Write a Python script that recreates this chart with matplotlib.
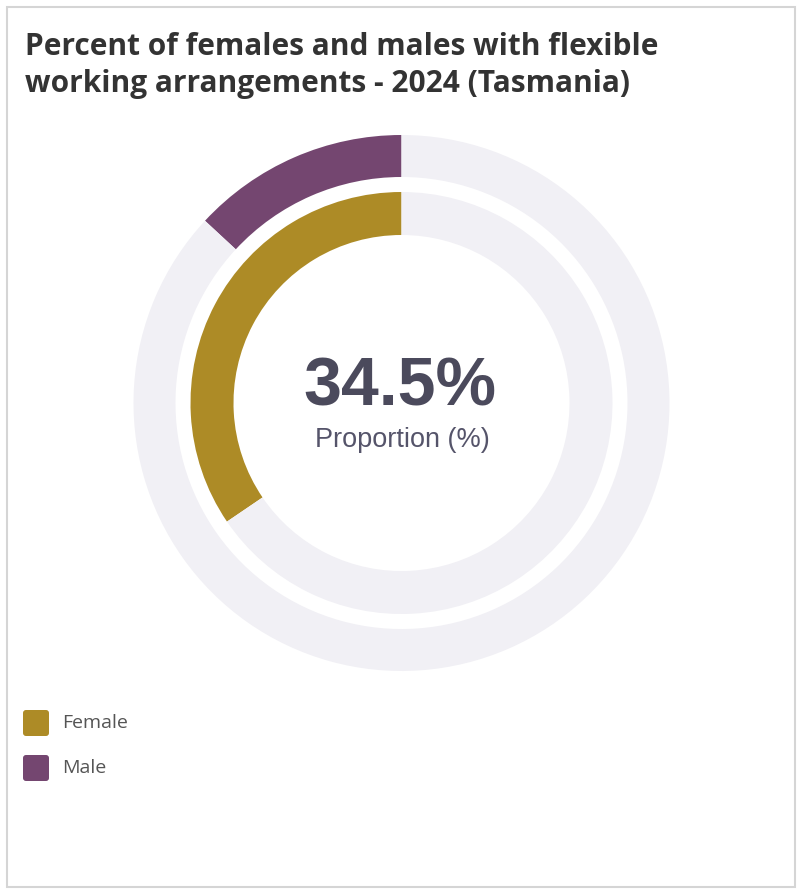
import matplotlib
matplotlib.use("Agg")
import matplotlib.pyplot as plt
from matplotlib.patches import FancyBboxPatch, Rectangle

title_lines = ["Percent of females and males with flexible",
               "working arrangements - 2024 (Tasmania)"]
series = ["Female", "Male"]
values = [34.5, 13.1]
colors = ["#AD8B26", "#744670"]
track_color = "#F1F0F5"
center_value = "34.5%"
center_label = "Proportion (%)"

W, H = 800, 893
fig = plt.figure(figsize=(W / 100, H / 100), dpi=100)
ax = fig.add_axes([0, 0, 1, 1])

# card border
ax.add_patch(Rectangle((7, H - 887), 788, 880, fill=False, edgecolor="#D5D5D5", lw=1.5))

cx, cy = 401.5, H - 403
rings = [(268, 42), (211, 43)]  # Male outer ring, Female inner ring
order = [1, 0]
for (r, w), idx in zip(rings, order):
    v = values[idx]
    ax.pie([v, 100 - v], colors=[colors[idx], track_color], radius=r, center=(cx, cy),
           startangle=90, counterclock=True,
           wedgeprops=dict(width=w, edgecolor="none", linewidth=0))
ax.set_xlim(0, W)
ax.set_ylim(0, H)
ax.set_aspect("equal")
ax.axis("off")

ax.text(400, H - 405, center_value, ha="center", va="baseline", fontsize=49, fontweight="bold",
        family="Liberation Sans", color="#4B4A5C")
ax.text(402, H - 447, center_label, ha="center", va="baseline", fontsize=19.5,
        family="Liberation Sans", color="#55546A")

for line, yb in zip(title_lines, [55, 92]):
    ax.text(25, H - yb, line, ha="left", va="baseline", fontsize=21.5, fontweight="bold",
            family="Open Sans", color="#333333")

legend_y = [723, 768]
for name, col, y in zip(series, colors, legend_y):
    ax.add_patch(FancyBboxPatch((23, H - y - 13), 26, 26, boxstyle="round,pad=0,rounding_size=3",
                                facecolor=col, edgecolor="none"))
    ax.text(62, H - y, name, ha="left", va="center", fontsize=14, family="Open Sans", color="#555555")

fig.savefig("out.png", dpi=100, facecolor="white")
